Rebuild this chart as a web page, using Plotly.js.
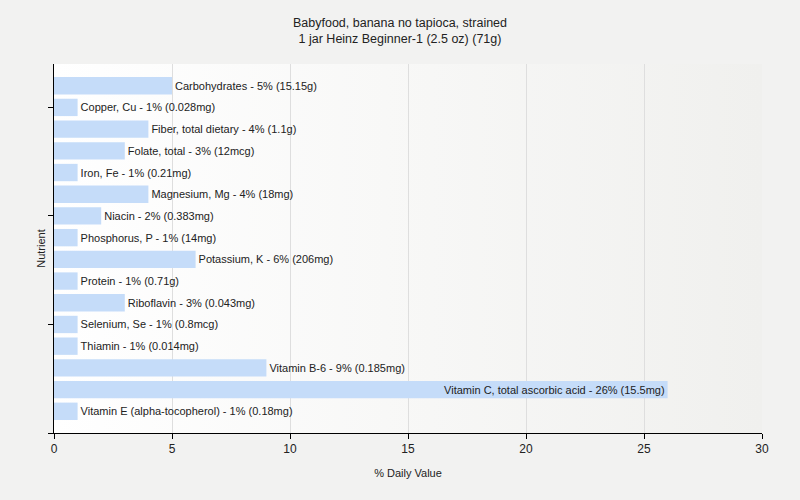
<!DOCTYPE html>
<html>
<head>
<meta charset="utf-8">
<script src="https://cdn.plot.ly/plotly-3.0.1.min.js"></script>
<style>html,body{margin:0;padding:0;background:#f2f2f1;}#chart{width:800px;height:500px;}</style>
</head>
<body>
<div id="chart"></div>
<script>
const nutrients = ["Carbohydrates","Copper, Cu","Fiber, total dietary","Folate, total","Iron, Fe","Magnesium, Mg","Niacin","Phosphorus, P","Potassium, K","Protein","Riboflavin","Selenium, Se","Thiamin","Vitamin B-6","Vitamin C, total ascorbic acid","Vitamin E (alpha-tocopherol)"];
const dailyValue = [5,1,4,3,1,4,2,1,6,1,3,1,1,9,26,1];
const amounts = ["15.15g","0.028mg","1.1g","12mcg","0.21mg","18mg","0.383mg","14mg","206mg","0.71g","0.043mg","0.8mcg","0.014mg","0.185mg","15.5mg","0.18mg"];
const xTicks = [0,5,10,15,20,25,30];

const n = nutrients.length;
const yPos = nutrients.map((_, i) => n - i);
const labels = nutrients.map((name, i) => name + " - " + dailyValue[i] + "% (" + amounts[i] + ")");
const positions = dailyValue.map(v => v > 20 ? "inside" : "outside");

const gradSvg = '<svg xmlns="http://www.w3.org/2000/svg" width="100" height="100" preserveAspectRatio="none"><defs><linearGradient id="g" x1="0" x2="1" y1="0" y2="0"><stop offset="0" stop-color="#ffffff"/><stop offset="1" stop-color="#f0f0ee"/></linearGradient></defs><rect width="100" height="100" fill="url(#g)"/></svg>';
const gradUri = "data:image/svg+xml;base64," + btoa(gradSvg);

const trace = {
  type: "bar",
  orientation: "h",
  x: dailyValue,
  y: yPos,
  width: 0.8,
  text: labels,
  textposition: positions,
  insidetextanchor: "end",
  constraintext: "none",
  cliponaxis: false,
  textfont: {family: "Liberation Sans, Arial, sans-serif", size: 11, color: "#222222"},
  marker: {color: "#c5dcf9"},
  hoverinfo: "none"
};

const layout = {
  width: 800, height: 500,
  paper_bgcolor: "#f2f2f1",
  plot_bgcolor: "rgba(0,0,0,0)",
  margin: {l: 54, r: 38, t: 64, b: 67},
  showlegend: false,
  font: {family: "Liberation Sans, Arial, sans-serif", size: 12, color: "#222222"},
  title: {
    text: "Babyfood, banana no tapioca, strained<br>1 jar Heinz Beginner-1 (2.5 oz) (71g)",
    x: 0.5, xanchor: "center", y: 0.947, yanchor: "top",
    font: {family: "Liberation Sans, Arial, sans-serif", size: 12.5, color: "#222222"}
  },
  xaxis: {
    range: [0, 30],
    tickvals: xTicks,
    ticks: "outside", ticklen: 5, tickcolor: "#000",
    showline: true, linecolor: "#000", linewidth: 1,
    showgrid: true, gridcolor: "#dedede", gridwidth: 1,
    zeroline: false,
    tickfont: {size: 12, color: "#222222"},
    title: {text: "% Daily Value", font: {size: 11, color: "#222222"}, standoff: 13}
  },
  yaxis: {
    range: [0, 17],
    tickvals: [0, 5, 10, 15],
    showticklabels: false,
    ticks: "outside", ticklen: 5, tickcolor: "#000",
    showline: true, linecolor: "#000", linewidth: 1,
    showgrid: false, zeroline: false,
    title: {text: "Nutrient", font: {size: 11, color: "#222222"}, standoff: 0}
  },
  images: [{
    source: gradUri, xref: "paper", yref: "paper",
    x: 0, y: 1, sizex: 1, sizey: 1, sizing: "stretch",
    xanchor: "left", yanchor: "top", layer: "below"
  }]
};

Plotly.newPlot("chart", [trace], layout, {displayModeBar: false, staticPlot: true});
</script>
</body>
</html>
